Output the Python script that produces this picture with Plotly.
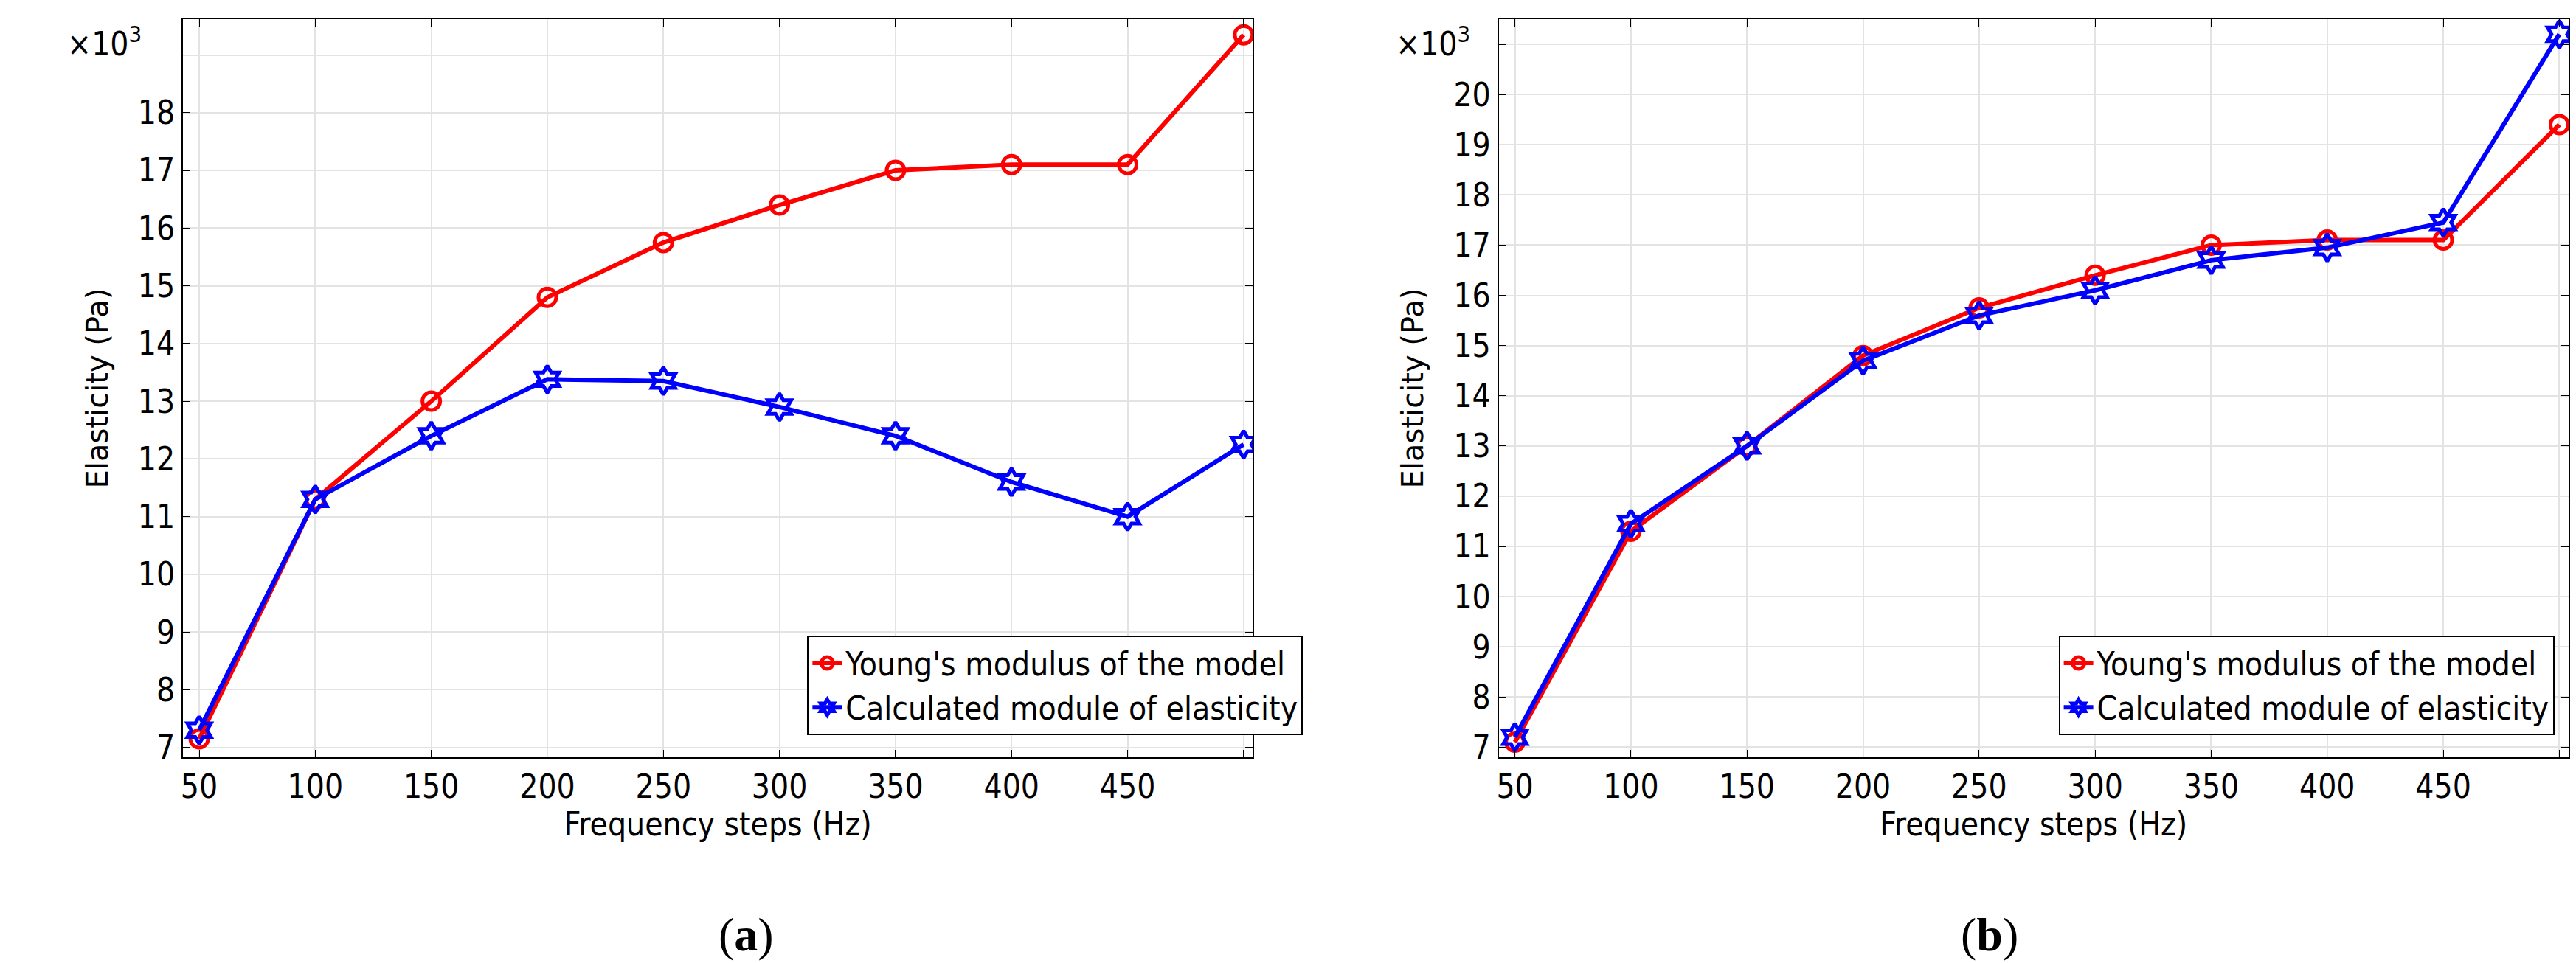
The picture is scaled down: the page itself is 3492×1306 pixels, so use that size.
import plotly.graph_objects as go
from plotly.subplots import make_subplots

# frequency steps (Hz)
freq = [50, 100, 150, 200, 250, 300, 350, 400, 450, 500]

# elasticity values, x10^3 Pa
young_a = [7.15, 11.3, 13.0, 14.8, 15.75, 16.4, 17.0, 17.1, 17.1, 19.35]
calc_a = [7.3, 11.3, 12.4, 13.38, 13.35, 12.9, 12.4, 11.6, 11.0, 12.25]
young_b = [7.1, 11.3, 13.0, 14.8, 15.75, 16.4, 17.0, 17.1, 17.1, 19.4]
calc_b = [7.2, 11.45, 13.0, 14.7, 15.6, 16.1, 16.7, 16.95, 17.45, 21.2]

x_ticks = [50, 100, 150, 200, 250, 300, 350, 400, 450, 500]
x_labels = ["50", "100", "150", "200", "250", "300", "350", "400", "450", ""]
ya_ticks = list(range(7, 20))
ya_labels = [str(v) for v in range(7, 19)] + [""]
yb_ticks = list(range(7, 22))
yb_labels = [str(v) for v in range(7, 21)] + [""]

FONT = "DejaVu Sans Condensed"

fig = make_subplots(rows=1, cols=2, horizontal_spacing=0.103)

for col, (yr, yc) in enumerate([(young_a, calc_a), (young_b, calc_b)], start=1):
    fig.add_trace(go.Scatter(
        x=freq, y=yr, mode="lines+markers", name="Young's modulus of the model",
        line=dict(color="#ff0000", width=6),
        marker=dict(symbol="circle-open", size=24, color="#ff0000", line=dict(width=5)),
        showlegend=(col == 1), legendgroup="r"), row=1, col=col)
    fig.add_trace(go.Scatter(
        x=freq, y=yc, mode="lines+markers", name="Calculated module of elasticity",
        line=dict(color="#0000ff", width=6),
        marker=dict(symbol="hexagram-open", size=28, color="#0000ff", line=dict(width=5)),
        showlegend=(col == 1), legendgroup="b"), row=1, col=col)

axis_common = dict(showline=True, linecolor="black", linewidth=2, mirror="ticks",
                   ticks="inside", ticklen=10, tickcolor="black",
                   showgrid=True, gridcolor="#e3e3e3", gridwidth=2,
                   tickfont=dict(family=FONT, size=44, color="black"), zeroline=False)
title_font = dict(family=FONT, size=44, color="black")

for col in (1, 2):
    fig.update_xaxes(range=[43, 504], tickvals=x_ticks, ticktext=x_labels,
                     title=dict(text="Frequency steps (Hz)", font=title_font, standoff=2),
                     row=1, col=col, **axis_common)
fig.update_yaxes(range=[6.83, 19.62], tickvals=ya_ticks, ticktext=ya_labels,
                 title=dict(text="Elasticity (Pa)", font=dict(family="DejaVu Sans", size=40, color="black"), standoff=28),
                 row=1, col=1, **axis_common)
fig.update_yaxes(range=[6.8, 21.5], tickvals=yb_ticks, ticktext=yb_labels,
                 title=dict(text="Elasticity (Pa)", font=dict(family="DejaVu Sans", size=40, color="black"), standoff=28),
                 row=1, col=2, **axis_common)

# second legend box for the right panel
for tr in fig.data[2:]:
    tr.showlegend = True
    tr.legend = "legend2"

leg = dict(font=dict(family=FONT, size=44, color="black"), bgcolor="white",
           bordercolor="black", borderwidth=2, xanchor="right", yanchor="bottom",
           itemwidth=40, tracegroupgap=0)
fig.update_layout(
    legend=dict(x=0.4695, y=0.03, **leg),
    legend2=dict(x=0.994, y=0.03, **leg),
)

for xp, txt in [(-0.033, "×10<sup>3</sup>"), (0.524, "×10<sup>3</sup>")]:
    fig.add_annotation(x=xp, y=1.0, xref="paper", yref="paper", text=txt, showarrow=False,
                       xanchor="center", yanchor="top", font=dict(family=FONT, size=44, color="black"))
for xp, txt in [(0.224, "(<b>a</b>)"), (0.77, "(<b>b</b>)")]:
    fig.add_annotation(x=xp, y=-0.24, xref="paper", yref="paper", text=txt, showarrow=False,
                       yanchor="middle", font=dict(family="Liberation Serif", size=64, color="black"))

fig.update_layout(
    width=3492, height=1306,
    margin=dict(l=240, r=18, t=18, b=287),
    plot_bgcolor="white", paper_bgcolor="white",
)

fig.write_html("out.html")
